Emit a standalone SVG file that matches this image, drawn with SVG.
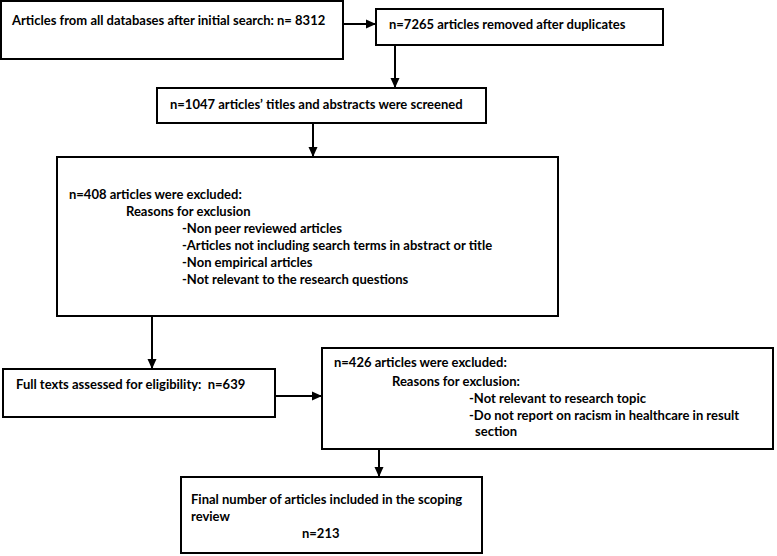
<svg xmlns="http://www.w3.org/2000/svg" width="777" height="556" viewBox="0 0 777 556">
<defs>
<marker id="ah" markerWidth="10" markerHeight="10" refX="9" refY="5" orient="auto" markerUnits="userSpaceOnUse">
<path d="M0,0.5 L10,5 L0,9.5 Z" fill="#000"/>
</marker>
<style>
.box{fill:#fff;stroke:#000;stroke-width:2}
.t{font-family:Lato,"Liberation Sans",sans-serif;font-weight:bold;font-size:13px;fill:#000}
.c{fill:none;stroke:#000;stroke-width:2}
</style>
</defs>
<rect width="777" height="556" fill="#fff"/>
<g id="connectors">
<path class="c" d="M343,24 L375,24" marker-end="url(#ah)"/>
<path class="c" d="M395,45 L395,87" marker-end="url(#ah)"/>
<path class="c" d="M313,123 L313,156" marker-end="url(#ah)"/>
<path class="c" d="M152,316 L152,368" marker-end="url(#ah)"/>
<path class="c" d="M275,396 L321,396" marker-end="url(#ah)"/>
<path class="c" d="M379,449 L379,476" marker-end="url(#ah)"/>
</g>
<g id="n1">
<rect class="box" x="1" y="1" width="342" height="58"/>
<text class="t" x="12" y="25">Articles from all databases after initial search: n= 8312</text>
</g>
<g id="n2">
<rect class="box" x="376" y="9" width="287" height="36"/>
<text class="t" x="389" y="29">n=7265 articles removed after duplicates</text>
</g>
<g id="n3">
<rect class="box" x="157" y="88" width="329" height="35"/>
<text class="t" x="170" y="109">n=1047 articles’ titles and abstracts were screened</text>
</g>
<g id="n4">
<rect class="box" x="57" y="157" width="501" height="159"/>
<text class="t" x="69" y="199">n=408 articles were excluded:</text>
<text class="t" x="126" y="216">Reasons for exclusion</text>
<text class="t" x="182" y="233">-Non peer reviewed articles</text>
<text class="t" x="182" y="250">-Articles not including search terms in abstract or title</text>
<text class="t" x="182" y="267">-Non empirical articles</text>
<text class="t" x="182" y="284">-Not relevant to the research questions</text>
</g>
<g id="n5">
<rect class="box" x="3" y="369" width="272" height="48"/>
<text class="t" x="16" y="389">Full texts assessed for eligibility:&#160; n=639</text>
</g>
<g id="n6">
<rect class="box" x="322" y="348" width="451" height="101"/>
<text class="t" x="334" y="367">n=426 articles were excluded:</text>
<text class="t" x="392" y="386">Reasons for exclusion:</text>
<text class="t" x="469" y="403">-Not relevant to research topic</text>
<text class="t" x="469" y="420">-Do not report on racism in healthcare in result</text>
<text class="t" x="475" y="436">section</text>
</g>
<g id="n7">
<rect class="box" x="181" y="477" width="301" height="76"/>
<text class="t" x="191" y="504">Final number of articles included in the scoping</text>
<text class="t" x="191" y="521">review</text>
<text class="t" x="302" y="538">n=213</text>
</g>
</svg>
